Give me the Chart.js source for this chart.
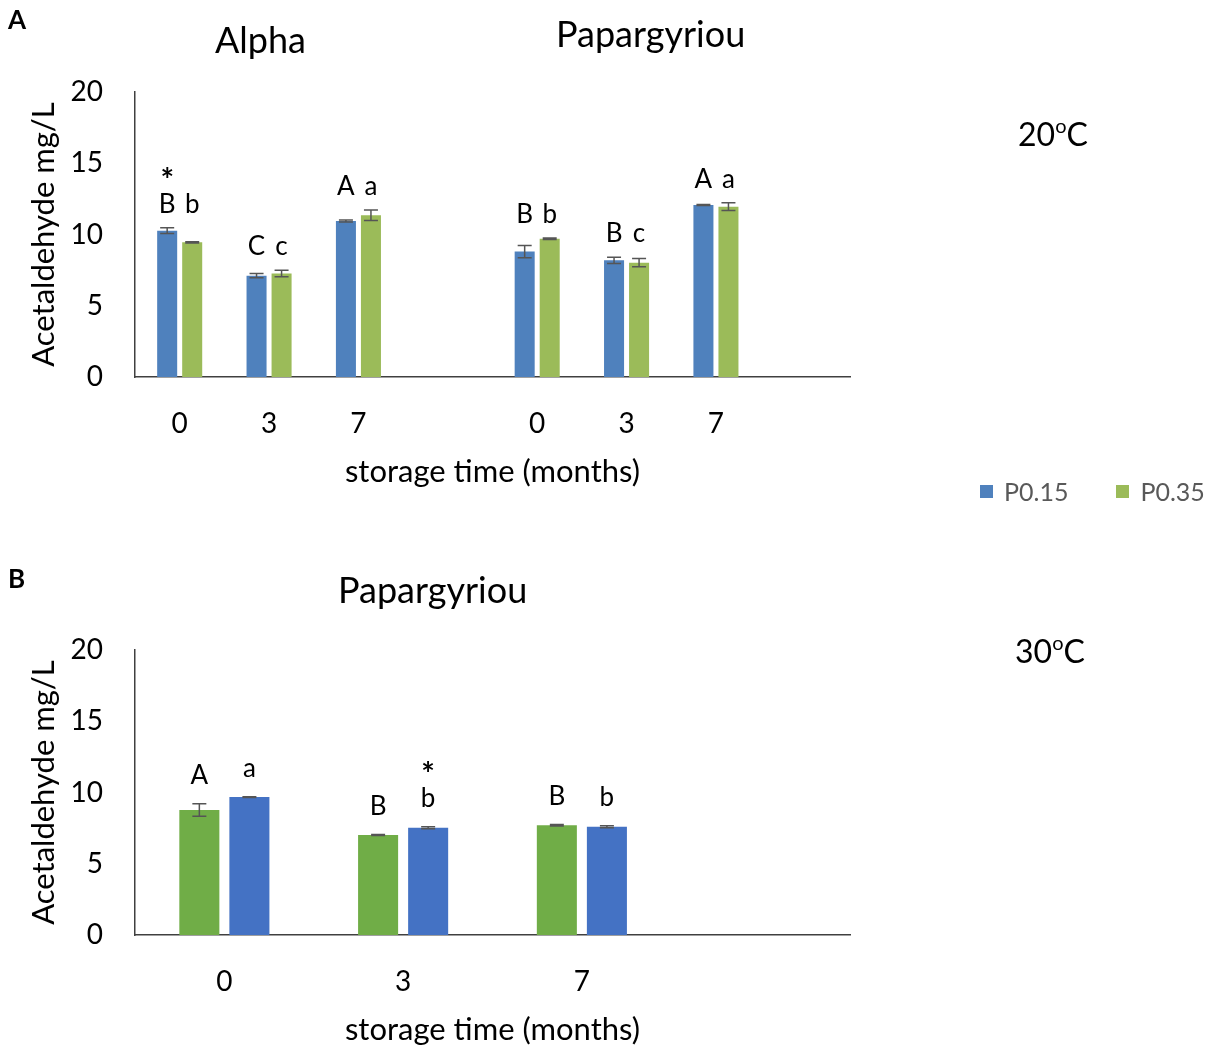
<!DOCTYPE html>
<html>
<head>
<meta charset="utf-8">
<script src="https://cdn.jsdelivr.net/npm/chart.js@4.4.1/dist/chart.umd.min.js"></script>
<style>
  body { margin: 0; background: #fff; }
  #wrap { position: relative; width: 1217px; height: 1047px; font-family: Lato, sans-serif; color: #000; overflow: hidden; }
  canvas { position: absolute; left: 0; }
  .txt { position: absolute; white-space: nowrap; line-height: 1; }
  .panel { font-weight: bold; font-size: 26px; }
  .head { font-size: 36px; }
  .temp { font-size: 32px; }
  .temp sup { font-size: 20px; vertical-align: 0; position: relative; top: -13px; }
  .legend { position: absolute; left: 980px; top: 476px; font-size: 25px; color: #595959; display: flex; }
  .legend span.item { display: flex; align-items: center; }
  .legend i { display: inline-block; width: 13px; height: 13px; margin-right: 11px; }
</style>
</head>
<body>
<div id="wrap">
  <canvas id="chartA" width="1217" height="497" style="top:0px;width:1217px;height:497px"></canvas>
  <canvas id="chartB" width="1217" height="497" style="top:558px;width:1217px;height:497px"></canvas>

  <div class="txt panel" style="left:8px;top:6px">A</div>
  <div class="txt head" style="left:215px;top:21px">Alpha</div>
  <div class="txt head" style="left:556px;top:15px">Papargyriou</div>
  <div class="txt temp" style="left:1018px;top:118px">20<sup>o</sup>C</div>

  <div class="txt panel" style="left:8px;top:565px">B</div>
  <div class="txt head" style="left:338px;top:571px">Papargyriou</div>
  <div class="txt temp" style="left:1015px;top:635px">30<sup>o</sup>C</div>

  <div class="legend" id="legend"></div>
</div>
<script>
// Panel A: 20 °C, Alpha (0/3/7) and Papargyriou (0/3/7), empty slot after each cultivar
const categoriesA = ['0', '3', '7', '', '0', '3', '7', ''];
const p015A = [10.27, 7.11, 10.95, null, 8.80, 8.19, 12.07, null];
const p035A = [9.45, 7.27, 11.35, null, 9.70, 8.02, 11.95, null];
const p015AErr = [0.20, 0.15, 0.07, null, 0.43, 0.22, 0.04, null];
const p035AErr = [0.04, 0.23, 0.37, null, 0.05, 0.29, 0.27, null];
const p015ALetters = ['B', 'C', 'A', '', 'B', 'B', 'A', ''];
const p035ALetters = ['b', 'c', 'a', '', 'b', 'c', 'a', ''];
const p015AStars = ['*', '', '', '', '', '', '', ''];

// Panel B: 30 °C, Papargyriou
const categoriesB = ['0', '3', '7', ''];
const p015B = [8.77, 7.02, 7.70, null];
const p035B = [9.68, 7.53, 7.60, null];
const p015BErr = [0.44, 0.03, 0.05, null];
const p035BErr = [0.03, 0.07, 0.07, null];
const p015BLetters = ['A', 'B', 'B', ''];
const p035BLetters = ['a', 'b', 'b', ''];
const p035BStars = ['', '*', '', ''];

const seriesNames = ['P0.15', 'P0.35'];

const BLUE_A = '#4F81BD', GREEN_A = '#9BBB59';
const GREEN_B = '#70AD47', BLUE_B = '#4472C4';
const AXIS = '#404040';

Chart.defaults.font.family = 'Lato, sans-serif';
Chart.defaults.color = '#000';

// error bars, significance letters and asterisks on top of the bars
const annotate = {
  id: 'annotate',
  afterDatasetsDraw(chart, args, opts) {
    const ctx = chart.ctx;
    const y = chart.scales.y;
    const sets = chart.data.datasets;
    const metas = sets.map((d, i) => chart.getDatasetMeta(i));
    ctx.save();
    // error bars
    sets.forEach((ds, di) => {
      metas[di].data.forEach((bar, i) => {
        const v = ds.data[i];
        if (v == null) return;
        const e = ds.errors[i] || 0;
        const y1 = y.getPixelForValue(v + e), y2 = y.getPixelForValue(v - e);
        const half = opts.capWidth / 2;
        ctx.strokeStyle = '#555';
        ctx.lineWidth = 1.5;
        ctx.beginPath();
        ctx.moveTo(bar.x, y1); ctx.lineTo(bar.x, y2);
        ctx.moveTo(bar.x - half, y1); ctx.lineTo(bar.x + half, y1);
        ctx.moveTo(bar.x - half, y2); ctx.lineTo(bar.x + half, y2);
        ctx.stroke();
      });
    });
    // letters
    ctx.fillStyle = '#000';
    ctx.textAlign = 'center';
    ctx.textBaseline = 'alphabetic';
    const n = chart.data.labels.length;
    for (let i = 0; i < n; i++) {
      const tops = sets.map(ds => ds.data[i] == null ? null : ds.data[i] + (ds.errors[i] || 0));
      if (tops.every(t => t == null)) continue;
      const groupTop = y.getPixelForValue(Math.max(...tops.filter(t => t != null)));
      sets.forEach((ds, di) => {
        const bar = metas[di].data[i];
        const base = opts.grouped ? groupTop - opts.gap : y.getPixelForValue(tops[di]) - opts.gap;
        ctx.font = '26px Lato, sans-serif';
        if (ds.letters[i]) ctx.fillText(ds.letters[i], bar.x, base);
        if (ds.stars && ds.stars[i]) {
          ctx.font = 'bold 32px Lato, sans-serif';
          ctx.fillText(ds.stars[i], bar.x, base - 21);
        }
      });
    }
    ctx.restore();
  }
};

function makeChart(id, labels, datasets, grouped, gap, capWidth) {
  return new Chart(document.getElementById(id), {
    type: 'bar',
    data: { labels, datasets },
    options: {
      responsive: false,
      animation: false,
      events: [],
      layout: { padding: { top: 92, right: 367, bottom: 0, left: 0 } },
      datasets: { bar: { categoryPercentage: 0.56, barPercentage: 0.8 } },
      plugins: {
        legend: { display: false },
        tooltip: { enabled: false },
        annotate: { grouped, gap, capWidth }
      },
      scales: {
        x: {
          grid: { display: false, drawTicks: false },
          border: { display: true, color: AXIS, width: 1.5 },
          ticks: { font: { size: 28 }, padding: 30, color: '#000' },
          title: { display: true, text: 'storage time (months)', font: { size: 31 }, padding: { top: 0, bottom: 6 } },
          afterFit(scale) { scale.height = 120; }
        },
        y: {
          min: 0, max: 20,
          grid: { display: false, drawTicks: false },
          border: { display: true, color: AXIS, width: 1.5 },
          ticks: { stepSize: 5, font: { size: 28 }, padding: 32, color: '#000' },
          title: { display: true, text: 'Acetaldehyde mg/L', font: { size: 31 }, padding: { top: 25, bottom: 0 } },
          afterFit(scale) { scale.width = 135; }
        }
      }
    },
    plugins: [annotate]
  });
}

makeChart('chartA', categoriesA, [
  { label: seriesNames[0], data: p015A, errors: p015AErr, letters: p015ALetters, stars: p015AStars, backgroundColor: BLUE_A },
  { label: seriesNames[1], data: p035A, errors: p035AErr, letters: p035ALetters, backgroundColor: GREEN_A }
], true, 15, 14);

makeChart('chartB', categoriesB, [
  { label: seriesNames[0], data: p015B, errors: p015BErr, letters: p015BLetters, backgroundColor: GREEN_B },
  { label: seriesNames[1], data: p035B, errors: p035BErr, letters: p035BLetters, stars: p035BStars, backgroundColor: BLUE_B }
], false, 20, 14);

// legend for panel A series
const legend = document.getElementById('legend');
[[seriesNames[0], BLUE_A], [seriesNames[1], GREEN_A]].forEach(([name, col], k) => {
  const item = document.createElement('span');
  item.className = 'item';
  item.style.marginRight = k === 0 ? '48px' : '0';
  item.innerHTML = '<i style="background:' + col + '"></i>' + name;
  legend.appendChild(item);
});
</script>
</body>
</html>
